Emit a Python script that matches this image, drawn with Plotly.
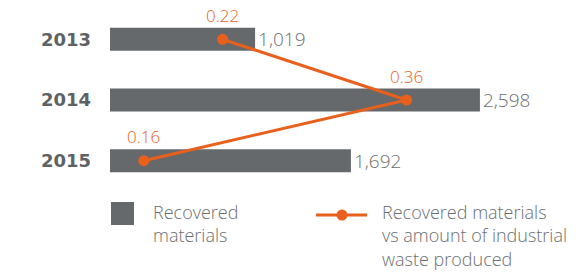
import plotly.graph_objects as go

# ---- data ----
years = ["2013", "2014", "2015"]
recovered = [1019, 2598, 1692]
ratio = [0.22, 0.36, 0.16]
bar_labels = ["1,019", "2,598", "1,692"]
ratio_labels = ["0.22", "0.36", "0.16"]
legend_bar = "Recovered<br>materials"
legend_line = "Recovered materials<br>vs amount of industrial<br>waste produced"

# ---- style ----
GRAY = "#65696C"
TEXT = "#6B6F72"
YEAR = "#5E6265"
ORANGE = "#E8601C"
FONT = "Open Sans"

W, H = 587, 275
L, R, T, B = 110, 0, 9, 84
PW, PH = W - L - R, H - T - B


def px(sx):
    """screen x -> paper x"""
    return (sx - L) / PW


def py(sy):
    """screen y -> paper y"""
    return (H - B - sy) / PH


fig = go.Figure()
fig.add_trace(go.Bar(
    y=years, x=recovered, orientation="h", width=0.38,
    marker=dict(color=GRAY, line=dict(width=0)),
    text=bar_labels, textposition="outside", constraintext="none",
    outsidetextfont=dict(family=FONT, size=19, color=TEXT, weight=300),
    cliponaxis=False, hoverinfo="skip",
))
fig.add_trace(go.Scatter(
    y=years, x=ratio, xaxis="x2", mode="lines+markers",
    line=dict(color=ORANGE, width=3),
    marker=dict(color=ORANGE, size=11),
    cliponaxis=False, hoverinfo="skip",
))

annotations = []
for i, (rv, lab) in enumerate(zip(ratio, ratio_labels)):
    annotations.append(dict(
        x=rv, y=i, xref="x2", yref="y", text=lab, showarrow=False,
        yshift=24, borderpad=0,
        font=dict(family=FONT, size=17, color=ORANGE, weight=300),
    ))

# legend (drawn manually)
shapes = [
    dict(type="rect", xref="paper", yref="paper", x0=px(111), x1=px(134),
         y0=py(225), y1=py(202), fillcolor=GRAY, line=dict(width=0)),
    dict(type="line", xref="paper", yref="paper", x0=px(316), x1=px(367),
         y0=py(215), y1=py(215), line=dict(color=ORANGE, width=3)),
    dict(type="circle", xref="paper", yref="paper", x0=px(336.5), x1=px(347.5),
         y0=py(220.5), y1=py(209.5), fillcolor=ORANGE, line=dict(width=0)),
]
annotations.append(dict(
    x=px(152), y=py(199), xref="paper", yref="paper",
    xanchor="left", yanchor="top", align="left", text=legend_bar, showarrow=False,
    borderpad=0, font=dict(family=FONT, size=18, color=TEXT, weight=300),
))
annotations.append(dict(
    x=px(381), y=py(199), xref="paper", yref="paper",
    xanchor="left", yanchor="top", align="left", text=legend_line, showarrow=False,
    borderpad=0, font=dict(family=FONT, size=18, color=TEXT, weight=300),
))

fig.update_layout(
    width=W, height=H,
    margin=dict(l=L, r=R, t=T, b=B, pad=0, autoexpand=False),
    paper_bgcolor="white", plot_bgcolor="white",
    showlegend=False,
    xaxis=dict(range=[0, 3350], visible=False, fixedrange=True, automargin=False),
    xaxis2=dict(range=[0.1343, 0.4973], overlaying="x", side="top", visible=False,
                automargin=False),
    yaxis=dict(type="category", range=[2.5, -0.5], autorange=False, showgrid=False,
               zeroline=False, showline=False, ticks="", ticklabelstandoff=18,
               automargin=False,
               tickfont=dict(family="DejaVu Sans", size=18, color=YEAR, weight=700)),
    shapes=shapes, annotations=annotations,
)

fig.write_html(
    "out.html",
    config={"displayModeBar": False, "staticPlot": True},
    post_script="document.body.style.margin='0';document.body.style.overflow='hidden';",
)
